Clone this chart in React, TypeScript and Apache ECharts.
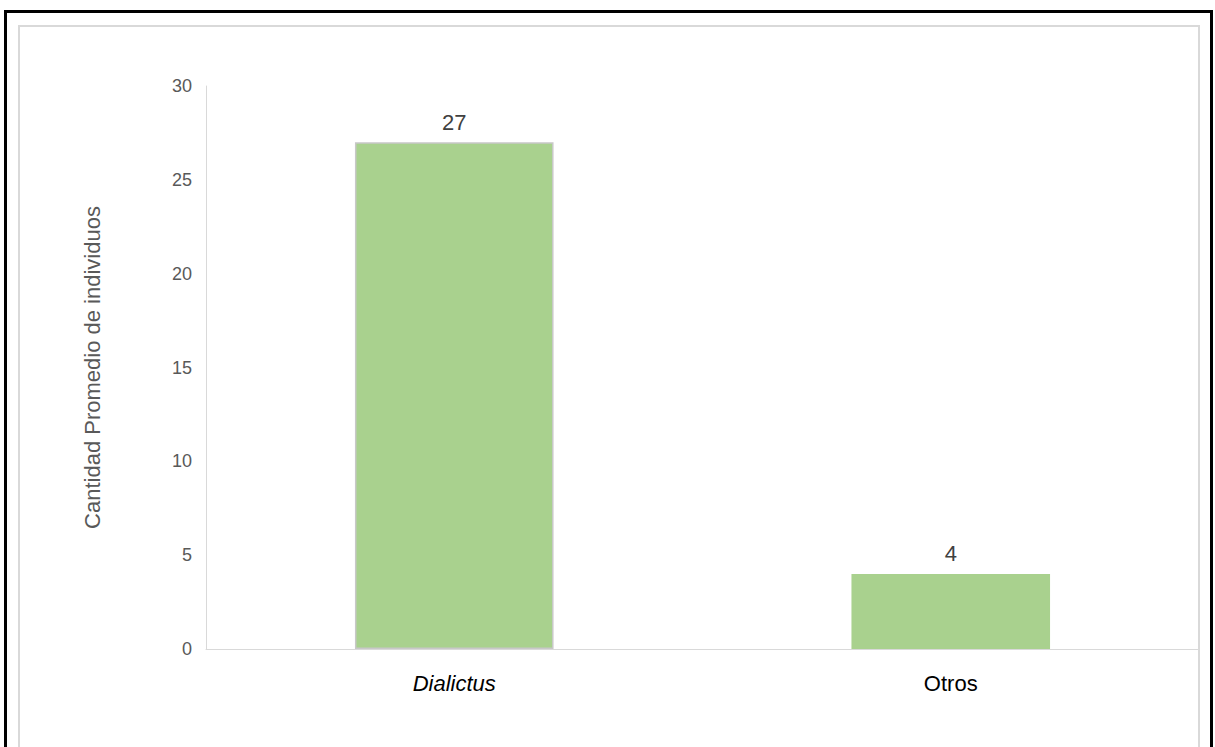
import React, { useEffect, useRef } from "react";
import * as echarts from "echarts";

const categories = ["Dialictus", "Otros"];
const values = [27, 4];
const yTicks = { min: 0, max: 30, interval: 5 };
const yAxisName = "Cantidad Promedio de individuos";

export default function App() {
  const ref = useRef<HTMLDivElement>(null);
  useEffect(() => {
    if (!ref.current) return;
    const chart = echarts.init(ref.current, null, { renderer: "svg" });
    const font = "'Liberation Sans', Arial, sans-serif";
    chart.setOption({
      animation: false,
      backgroundColor: "#ffffff",
      textStyle: { fontFamily: font },
      grid: { left: 206, right: 16, top: 86, bottom: 98, containLabel: false },
      graphic: [
        {
          type: "rect",
          shape: { x: 5.5, y: 11.5, width: 1206, height: 800 },
          style: { fill: "none", stroke: "#000000", lineWidth: 3 },
          silent: true,
        },
        {
          type: "rect",
          shape: { x: 19, y: 26, width: 1180, height: 800 },
          style: { fill: "none", stroke: "#d9d9d9", lineWidth: 2 },
          silent: true,
        },
      ],
      xAxis: {
        type: "category",
        data: categories,
        axisLine: { lineStyle: { color: "#d9d9d9", width: 1 } },
        axisTick: { show: false },
        axisLabel: {
          margin: 23,
          fontSize: 22,
          color: "#000000",
          fontFamily: font,
          formatter: (v: string) => (v === "Dialictus" ? "{it|" + v + "}" : v),
          rich: { it: { fontStyle: "italic", fontSize: 22, color: "#000000", fontFamily: font } },
        },
      },
      yAxis: {
        type: "value",
        min: yTicks.min,
        max: yTicks.max,
        interval: yTicks.interval,
        name: yAxisName,
        nameLocation: "middle",
        nameGap: 103,
        nameTextStyle: { fontSize: 22, color: "#595959", fontFamily: font },
        axisLine: { show: true, lineStyle: { color: "#d9d9d9", width: 1 } },
        axisTick: { show: false },
        splitLine: { show: false },
        axisLabel: { margin: 14, fontSize: 18, color: "#595959", fontFamily: font },
      },
      series: [
        {
          type: "bar",
          data: values.map((v, i) => ({
            value: v,
            itemStyle: i === 0 ? { borderColor: "#c8c8c8", borderWidth: 1.5 } : {},
          })),
          barWidth: "40%",
          itemStyle: { color: "#a9d18e" },
          label: {
            show: true,
            position: "top",
            distance: 9,
            fontSize: 22,
            color: "#404040",
            fontFamily: font,
          },
        },
      ],
    });
    return () => chart.dispose();
  }, []);
  return (
    <div
      ref={ref}
      style={{ position: "fixed", left: 0, top: 0, width: 1215, height: 747 }}
    />
  );
}
